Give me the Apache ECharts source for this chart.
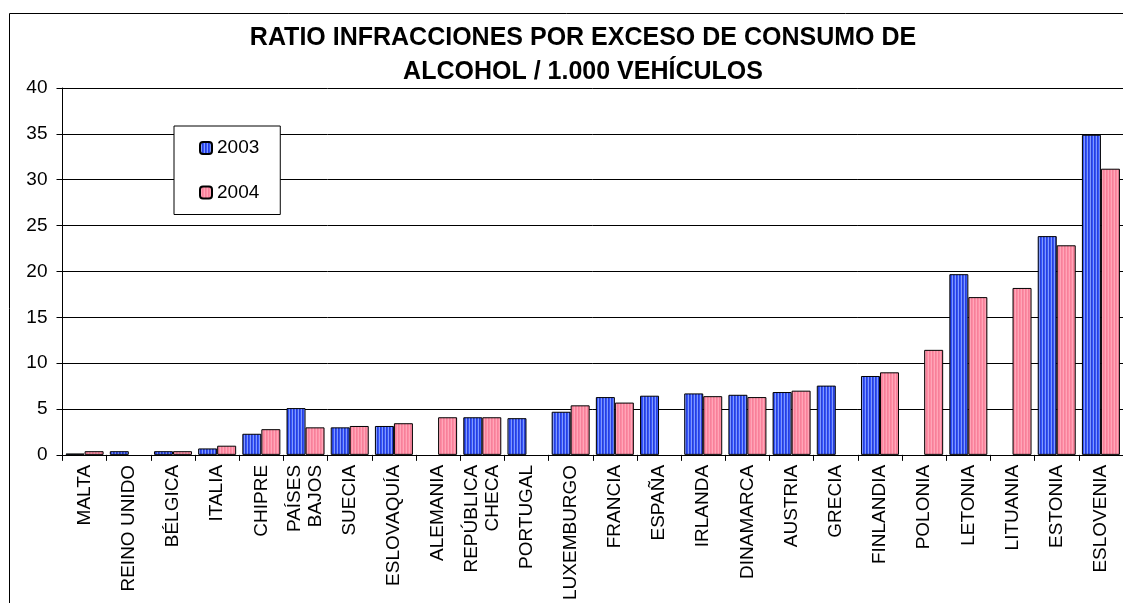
<!DOCTYPE html>
<html>
<head>
<meta charset="utf-8">
<script src="https://cdn.jsdelivr.net/npm/echarts@6/dist/echarts.min.js"></script>
<style>
html,body{margin:0;padding:0;background:#fff;}
#c{width:1123px;height:603px;}
</style>
</head>
<body>
<div id="c"></div>
<script>
const titleText = 'RATIO INFRACCIONES POR EXCESO DE CONSUMO DE\nALCOHOL / 1.000 VEHÍCULOS';
const seriesNames = ['2003', '2004'];
const categories = ['MALTA', 'REINO UNIDO', 'BÉLGICA', 'ITALIA', 'CHIPRE', 'PAÍSES\nBAJOS', 'SUECIA',
  'ESLOVAQUÍA', 'ALEMANIA', 'REPÚBLICA\nCHECA', 'PORTUGAL', 'LUXEMBURGO', 'FRANCIA', 'ESPAÑA',
  'IRLANDA', 'DINAMARCA', 'AUSTRIA', 'GRECIA', 'FINLANDIA', 'POLONIA', 'LETONIA', 'LITUANIA',
  'ESTONIA', 'ESLOVENIA'];
const values2003 = [0.15, 0.4, 0.4, 0.7, 2.3, 5.1, 3.0, 3.15, null, 4.1, 4.0, 4.7, 6.3, 6.45,
  6.7, 6.55, 6.85, 7.55, 8.6, null, 19.7, null, 23.85, 34.9];
const values2004 = [0.4, null, 0.4, 1.0, 2.8, 3.0, 3.15, 3.45, 4.1, 4.1, null, 5.4, 5.7, null,
  6.4, 6.3, 7.0, null, 9.0, 11.45, 17.2, 18.2, 22.85, 31.2];
const yMin = 0, yMax = 40, yStep = 5;

function stripes(cols) {
  const c = document.createElement('canvas');
  c.width = cols.length; c.height = 2;
  const g = c.getContext('2d');
  cols.forEach((col, i) => { g.fillStyle = col; g.fillRect(i, 0, 1, 2); });
  return { image: c, repeat: 'repeat' };
}
const bluePattern = stripes(['#3355ff', '#7f99ff', '#2a3fd6']);
const pinkPattern = stripes(['#ff8ba3', '#ffa6b8', '#f5819a']);

const FONT = '"Liberation Sans", Arial, sans-serif';
const chart = echarts.init(document.getElementById('c'));
chart.setOption({
  animation: false,
  backgroundColor: '#fff',
  textStyle: { fontFamily: FONT },
  title: {
    text: titleText,
    left: 583,
    top: 21,
    padding: 0,
    textAlign: 'center',
    textStyle: { fontFamily: FONT, fontSize: 25, fontWeight: 'bold', color: '#000', lineHeight: 34 }
  },
  graphic: [{
    type: 'rect', z: -10, silent: true,
    shape: { x: 9.5, y: 13.5, width: 1300, height: 800 },
    style: { fill: 'none', stroke: '#000', lineWidth: 1 }
  }],
  legend: {
    orient: 'vertical',
    left: 174, top: 126,
    padding: [12, 21, 12, 25],
    itemWidth: 12, itemHeight: 12, itemGap: 24.5,
    backgroundColor: '#fff',
    borderColor: '#000', borderWidth: 1,
    textStyle: { fontFamily: FONT, fontSize: 19, color: '#000', lineHeight: 20 },
    data: seriesNames
  },
  grid: { left: 62.5, top: 88, width: 1070, height: 369, containLabel: false },
  xAxis: {
    type: 'category',
    data: categories,
    axisLine: { lineStyle: { color: '#000', width: 1 } },
    axisTick: { show: true, length: 6, lineStyle: { color: '#000' } },
    axisLabel: { interval: 0, rotate: 90, margin: 10, fontFamily: FONT, fontSize: 19, color: '#000', lineHeight: 21 }
  },
  yAxis: {
    type: 'value',
    min: yMin, max: yMax, interval: yStep,
    axisLine: { show: true, lineStyle: { color: '#000', width: 1 } },
    axisTick: { show: true, length: 6, lineStyle: { color: '#000' } },
    axisLabel: { margin: 15, fontFamily: FONT, fontSize: 19, color: '#000' },
    splitLine: { show: true, lineStyle: { color: '#000', width: 1 } }
  },
  series: [
    {
      name: seriesNames[0], type: 'bar', data: values2003,
      barWidth: 19, barGap: '0%',
      itemStyle: { color: bluePattern, borderColor: '#000', borderWidth: 1 }
    },
    {
      name: seriesNames[1], type: 'bar', data: values2004,
      barWidth: 19, barGap: '0%',
      itemStyle: { color: pinkPattern, borderColor: '#000', borderWidth: 1 }
    }
  ]
});
</script>
</body>
</html>
